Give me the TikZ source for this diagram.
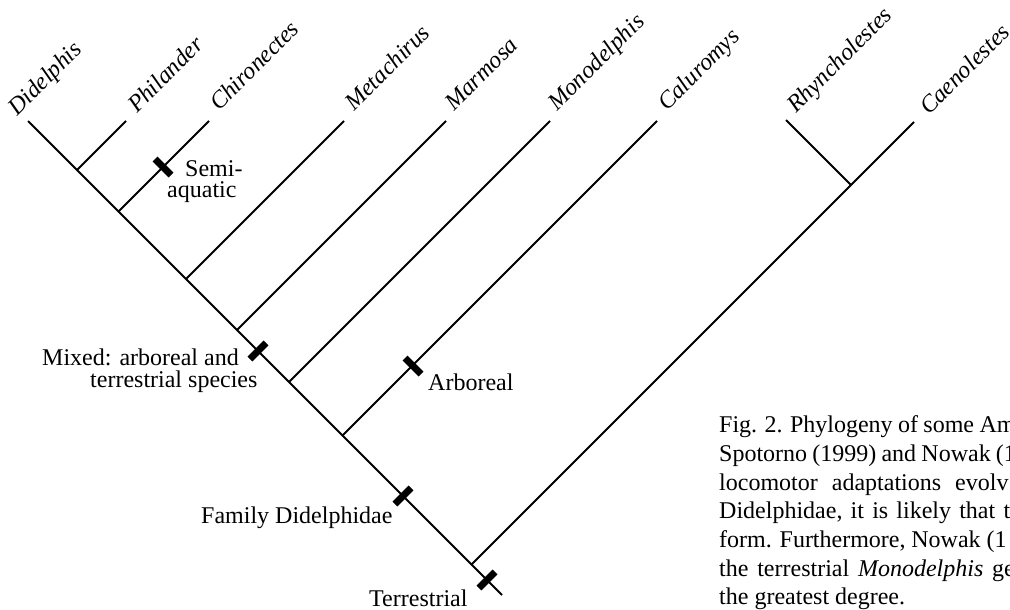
\documentclass[tikz,border=0pt]{standalone}
\usepackage{fontspec}
\setmainfont{Liberation Serif}
\begin{document}
\begin{tikzpicture}[x=1pt,y=-1pt,
  branch/.style={line width=2pt},
  tickmark/.style={line width=7pt},
  taxon/.style={rotate=45, anchor=base west, inner sep=0pt, font=\fontsize{24}{24}\selectfont\itshape},
  lbl/.style={anchor=base west, inner sep=0pt, font=\fontsize{24}{24}\selectfont},
  captext/.style={anchor=base west, inner sep=0pt, font=\fontsize{24}{24}\selectfont}]
\clip (0,0) rectangle (1010,610);
% tips
\coordinate (tDid) at (28,121);
\coordinate (tPhi) at (126,121);
\coordinate (tChi) at (209,121);
\coordinate (tMet) at (344,121);
\coordinate (tMar) at (446,121);
\coordinate (tMon) at (550,121);
\coordinate (tCal) at (657,121);
\coordinate (tRhy) at (786,120);
\coordinate (tCae) at (914,122);
% junctions
\coordinate (jPhi) at (77,170);
\coordinate (jChi) at (118.5,211.5);
\coordinate (jMet) at (186,279);
\coordinate (jMar) at (237,330);
\coordinate (jMon) at (289,382);
\coordinate (jCal) at (342.5,435.5);
\coordinate (jCae) at (471.5,564.5);
\coordinate (jRC) at (851,185);
\coordinate (root) at (502,595);
% branches
\draw[branch] (tDid) -- (root);
\draw[branch] (jPhi) -- (tPhi);
\draw[branch] (jChi) -- (tChi);
\draw[branch] (jMet) -- (tMet);
\draw[branch] (jMar) -- (tMar);
\draw[branch] (jMon) -- (tMon);
\draw[branch] (jCal) -- (tCal);
\draw[branch] (jCae) -- (tCae);
\draw[branch] (jRC) -- (tRhy);
% character ticks
\coordinate (kSemi) at (163,167);
\coordinate (kMix) at (258,351);
\coordinate (kArb) at (413,366);
\coordinate (kFam) at (403,496);
\coordinate (kTer) at (487,580);
\draw[tickmark] (kSemi) ++(-8,-8) -- ++(16,16);
\draw[tickmark] (kArb) ++(-8,-8) -- ++(16,16);
\draw[tickmark] (kMix) ++(-8,8) -- ++(16,-16);
\draw[tickmark] (kFam) ++(-8,8) -- ++(16,-16);
\draw[tickmark] (kTer) ++(-8,8) -- ++(16,-16);
% taxon names
\node[taxon] (nDid) at (17,117) {Didelphis};
\node[taxon] (nPhi) at (137,114) {Philander};
\node[taxon] (nChi) at (219,112) {Chironectes};
\node[taxon] (nMet) at (354,112) {Metachirus};
\node[taxon] (nMar) at (454,112) {Marmosa};
\node[taxon] (nMon) at (557,112) {Monodelphis};
\node[taxon] (nCal) at (667,112) {Caluromys};
\node[taxon] (nRhy) at (796,114) {Rhyncholestes};
\node[taxon] (nCae) at (929,116) {Caenolestes};
% character labels
\node[lbl] (lSemi1) at (185,176) {Semi-};
\node[lbl] (lSemi2) at (167,197) {aquatic};
\node[lbl] (lMix1) at (42,365) {Mixed: arboreal and};
\node[lbl] (lMix2) at (90,387) {terrestrial species};
\node[lbl] (lArb) at (428,390) {Arboreal};
\node[lbl] (lFam) at (201,523) {Family Didelphidae};
\node[lbl] (lTer) at (369,606) {Terrestrial};
% caption (cut at the right edge)
\node[captext] (c1) at (719,432) {\spaceskip=5.4pt Fig. 2. Phylogeny of some Am};
\node[captext] (c2) at (719,461) {\spaceskip=5.2pt Spotorno (1999) and Nowak (1};
\node[captext] (c3) at (719,490) {\spaceskip=14pt locomotor adaptations evolv};
\node[captext] (c4) at (719,518) {\spaceskip=8.2pt Didelphidae, it is likely that t};
\node[captext] (c5) at (719,547) {\spaceskip=5.8pt form. Furthermore, Nowak (1};
\node[captext] (c6) at (719,576) {\spaceskip=8.8pt the terrestrial \textit{Monodelphis} ge};
\node[captext] (c7) at (719,604) {the greatest degree.};
\end{tikzpicture}
\end{document}
